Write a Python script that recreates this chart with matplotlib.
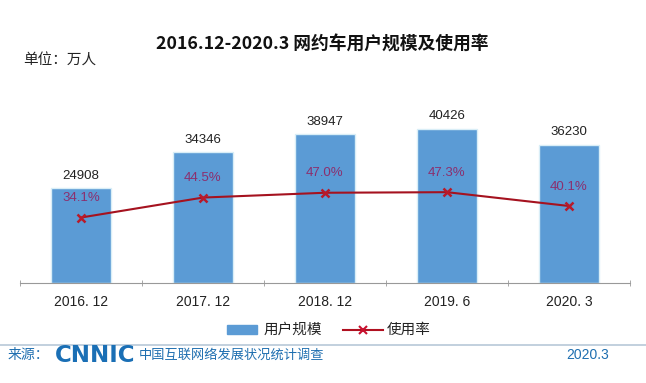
import matplotlib.pyplot as plt
import numpy as np

plt.rcParams['font.family'] = ['Liberation Sans', 'Noto Sans CJK SC', 'DejaVu Sans']

# data
periods = ['2016. 12', '2017. 12', '2018. 12', '2019. 6', '2020. 3']
users = [24908, 34346, 38947, 40426, 36230]      # 万人
rate = [34.1, 44.5, 47.0, 47.3, 40.1]             # %

W, H = 646, 383
fig = plt.figure(figsize=(W / 100, H / 100), dpi=100)
fig.patch.set_facecolor('white')

cjk = ['Noto Sans CJK SC', 'DejaVu Sans']

ax = fig.add_axes([20 / W, 1 - 283 / H, 610 / W, 173 / H])
x = np.arange(len(periods))
ax.bar(x, users, width=0.49, color='#5b9bd5', edgecolor='#d9eef7', linewidth=1.0, zorder=2)
ax.set_xlim(-0.5, 4.5)
ax.set_ylim(0, 45360)
for xi, v in zip(x, users):
    ax.text(xi, v + 1700, str(v), ha='center', va='bottom', fontsize=9.5, color='#222222')

for s in ['top', 'left', 'right']:
    ax.spines[s].set_visible(False)
ax.spines['bottom'].set_color('#999999')
ax.set_yticks([])
ax.set_xticks(x)
ax.set_xticklabels(periods, fontsize=10, color='#222222')
ax.tick_params(axis='x', which='major', length=0, pad=9)
ax.set_xticks(np.arange(-0.5, 5, 1), minor=True)
ax.tick_params(axis='x', which='minor', length=5, color='#999999', direction='inout')

ax2 = ax.twinx()
ax2.set_ylim(0, 90.1)
ax2.plot(x, rate, color='#a5121f', linewidth=1.5, marker='x', markersize=6,
         markeredgewidth=1.8, markeredgecolor='#b81a2a', zorder=3)
for xi, r in zip(x, rate):
    ax2.text(xi, r + 7, f'{r}%', ha='center', va='bottom', fontsize=9.5, color='#8b2f6e')
for s in ['top', 'left', 'right', 'bottom']:
    ax2.spines[s].set_visible(False)
ax2.set_yticks([])

# titles
fig.text(322 / W, 1 - 45 / H, '2016.12-2020.3 网约车用户规模及使用率', ha='center', va='center',
         fontsize=12.8, fontweight='bold', family=cjk, color='#111111')
fig.text(23 / W, 1 - 61 / H, '单位：万人', ha='left', va='center', fontsize=10.5, family=cjk, color='#222222')

# legend (manual)
fig.patches.append(plt.Rectangle((227 / W, 1 - 334 / H), 30 / W, 9 / H, transform=fig.transFigure,
                                 color='#5b9bd5', figure=fig))
fig.text(264 / W, 1 - 330 / H, '用户规模', ha='left', va='center', fontsize=10.5, family=cjk, color='#222222')
fig.lines.append(plt.Line2D([343 / W, 383 / W], [1 - 330 / H, 1 - 330 / H], transform=fig.transFigure,
                            color='#b01020', linewidth=1.5, figure=fig))
fig.lines.append(plt.Line2D([363 / W], [1 - 330 / H], transform=fig.transFigure, marker='x',
                            markersize=6, markeredgewidth=1.5, color='#c8102e', figure=fig))
fig.text(387 / W, 1 - 330 / H, '使用率', ha='left', va='center', fontsize=10.5, family=cjk, color='#222222')

# footer
fig.lines.append(plt.Line2D([0, 1], [1 - 345 / H, 1 - 345 / H], transform=fig.transFigure,
                            color='#b8c8d8', linewidth=1.2, figure=fig))
fig.text(8 / W, 1 - 355 / H, '来源：', ha='left', va='center', fontsize=10, family=cjk, color='#1f6fb0')
fig.text(55 / W, 1 - 355 / H, 'CNNIC', ha='left', va='center', fontsize=16.5, fontweight='bold',
         family=['DejaVu Sans'], color='#1a6fb5')
fig.text(139 / W, 1 - 355 / H, '中国互联网络发展状况统计调查', ha='left', va='center', fontsize=9.5,
         family=cjk, color='#1f6fb0')
fig.text(609 / W, 1 - 355 / H, '2020.3', ha='right', va='center', fontsize=10, color='#1f6fb0')

fig.savefig('out.png', dpi=100, facecolor='white')
